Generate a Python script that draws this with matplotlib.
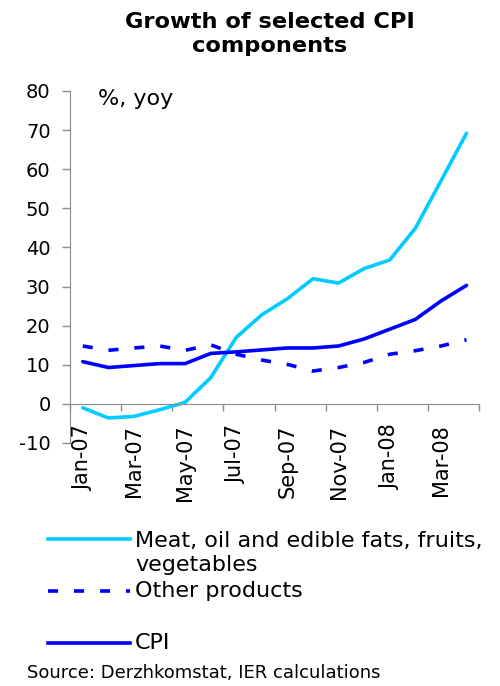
import matplotlib
matplotlib.use("Agg")
import matplotlib.pyplot as plt
from matplotlib.lines import Line2D
import numpy as np

months = ["Jan-07", "Feb-07", "Mar-07", "Apr-07", "May-07", "Jun-07", "Jul-07", "Aug-07",
          "Sep-07", "Oct-07", "Nov-07", "Dec-07", "Jan-08", "Feb-08", "Mar-08", "Apr-08"]
meat = [-1.0, -3.6, -3.2, -1.5, 0.4, 6.7, 17.0, 22.8, 26.9, 32.0, 30.9, 34.6, 36.8, 44.9, 57.0, 69.2]
other = [14.8, 13.7, 14.3, 14.8, 13.7, 15.1, 12.7, 11.2, 10.1, 8.4, 9.3, 10.6, 12.7, 13.6, 14.8, 16.4]
cpi = [10.8, 9.3, 9.8, 10.3, 10.3, 12.9, 13.3, 13.8, 14.3, 14.3, 14.8, 16.6, 19.1, 21.6, 26.3, 30.3]
series_names = ["Meat, oil and edible fats, fruits,\nvegetables", "Other products", "CPI"]
yticks = [-10, 0, 10, 20, 30, 40, 50, 60, 70, 80]

plt.rcParams['font.family'] = ['DejaVu Sans']

W, H = 500, 686
fig = plt.figure(figsize=(W / 100, H / 100), dpi=100)
ax = fig.add_axes([70 / W, 1 - 443 / H, (479.3 - 70) / W, (443 - 91) / H])

x = np.arange(len(months))
c_meat = '#00CCFF'
c_blue = '#0000FF'
lw = 2.6
ax.plot(x, meat, color=c_meat, lw=lw, solid_capstyle='round', solid_joinstyle='round')
ax.plot(x, other, color=c_blue, lw=lw, dashes=(2.8, 4.4), dash_capstyle='butt')
ax.plot(x, cpi, color=c_blue, lw=lw, solid_capstyle='round', solid_joinstyle='round')

ax.set_xlim(-0.5, len(months) - 0.5)
ax.set_ylim(-10, 80)
ax.set_yticks(yticks)
ax.set_yticklabels([str(v) for v in yticks], fontsize=14)

for s in ['top', 'right']:
    ax.spines[s].set_visible(False)
gray = '#8c8c8c'
ax.spines['left'].set_color(gray)
ax.spines['bottom'].set_color(gray)
ax.spines['bottom'].set_position(('data', 0))
ax.tick_params(axis='y', colors=gray, labelcolor='black', length=6, width=1, pad=8, direction='out')

ax.set_xticks(np.arange(-0.5, len(months), 2))
ax.set_xticklabels([])
ax.set_xticks(x[::2], minor=True)
ax.set_xticklabels(months[::2], minor=True, rotation=90, fontsize=15)
ax.tick_params(axis='x', which='major', colors=gray, length=5, width=1, direction='out')
ax.tick_params(axis='x', which='minor', length=0, pad=15)
for lab in ax.get_xticklabels(minor=True):
    lab.set_va('top')

fig.text(270 / W, 1 - 33.5 / H, "Growth of selected CPI\ncomponents", ha='center', va='center',
         fontsize=16.2, fontweight='bold', linespacing=1.25)
fig.text(98 / W, 1 - 99 / H, "%, yoy", ha='left', va='center', fontsize=16)

# legend
leg_y = [539, 591, 643]
styles = [dict(color=c_meat, lw=lw), dict(color=c_blue, lw=lw, dashes=(2.8, 4.4), dash_capstyle='butt'),
          dict(color=c_blue, lw=lw)]
for yy, st in zip(leg_y, styles):
    fig.add_artist(Line2D([48 / W, 130 / W], [1 - yy / H, 1 - yy / H], transform=fig.transFigure, **st))
fig.text(135 / W, 1 - 553 / H, series_names[0], ha='left', va='center', fontsize=16, linespacing=1.2)
fig.text(135 / W, 1 - 591 / H, series_names[1], ha='left', va='center', fontsize=16)
fig.text(135 / W, 1 - 643 / H, series_names[2], ha='left', va='center', fontsize=16)

fig.text(27 / W, 1 - 673 / H, "Source: Derzhkomstat, IER calculations", ha='left', va='center', fontsize=13)

fig.savefig("out.png", dpi=100)
